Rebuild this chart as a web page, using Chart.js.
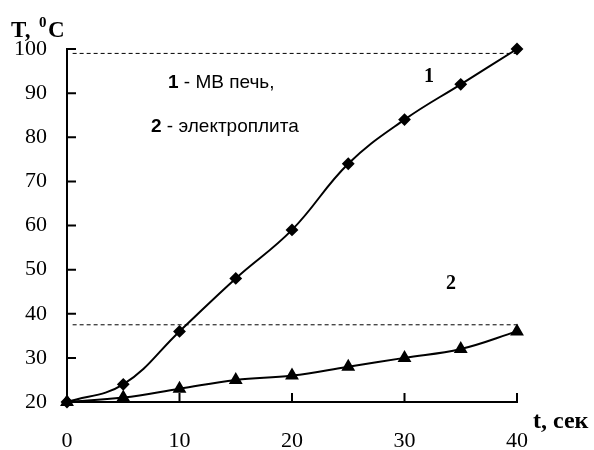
<!DOCTYPE html>
<html>
<head>
<meta charset="utf-8">
<script src="https://cdn.jsdelivr.net/npm/chart.js@4.4.0/dist/chart.umd.min.js"></script>
<style>
    html, body { margin: 0; padding: 0; background: #fff; }
    #wrap { width: 594px; height: 450px; }
</style>
</head>
<body>
<div id="wrap"><canvas id="chart" width="594" height="450"></canvas></div>
<script>
'use strict';

const timeSec = [0, 5, 10, 15, 20, 25, 30, 35, 40];
const microwaveTemp = [20, 24, 36, 48, 59, 74, 84, 92, 100];
const stoveTemp = [20, 21, 23, 25, 26, 28, 30, 32, 36];
const xTicks = [0, 10, 20, 30, 40];
const yTicks = [20, 30, 40, 50, 60, 70, 80, 90, 100];
const guideTop = 99;
const guideLow = 37.5;
const guideRight = 40.25;

const serif = '"Liberation Serif", "Times New Roman", serif';
const sans = '"Liberation Sans", Arial, sans-serif';

const toPoints = (ys) => timeSec.map((x, i) => ({ x, y: ys[i] }));

// inward tick marks + all the loose text around the plot
const decorations = {
    id: 'decorations',
    afterDraw(chart) {
        const { ctx, scales: { x, y } } = chart;
        ctx.save();
        ctx.strokeStyle = '#000';
        ctx.lineWidth = 2;
        ctx.beginPath();
        yTicks.forEach((v) => {
            const py = y.getPixelForValue(v);
            ctx.moveTo(x.left, py);
            ctx.lineTo(x.left + 9, py);
        });
        xTicks.forEach((v) => {
            const px = x.getPixelForValue(v);
            ctx.moveTo(px, y.bottom);
            ctx.lineTo(px, y.bottom - 9);
        });
        ctx.stroke();

        ctx.fillStyle = '#000';
        ctx.textBaseline = 'alphabetic';
        ctx.textAlign = 'left';

        // y axis title: T, °C with superscript zero
        ctx.font = 'bold 23px ' + serif;
        ctx.fillText('T,', 11, 37);
        ctx.font = 'bold 15px ' + serif;
        ctx.fillText('0', 39, 27);
        ctx.font = 'bold 23px ' + serif;
        ctx.fillText('C', 48, 37);

        // x axis title
        ctx.font = 'bold 24px ' + serif;
        ctx.fillText('t, сек', 533, 428);

        // curve numbers
        ctx.font = 'bold 20px ' + serif;
        ctx.textAlign = 'center';
        ctx.fillText('1', 429, 82);
        ctx.fillText('2', 451, 289);

        // note
        ctx.textAlign = 'left';
        ctx.font = 'bold 19px ' + sans;
        ctx.fillText('1', 168, 88);
        let w = ctx.measureText('1').width;
        ctx.font = '19px ' + sans;
        ctx.fillText(' - МВ печь,', 168 + w, 88);
        ctx.font = 'bold 19px ' + sans;
        ctx.fillText('2', 151, 132);
        w = ctx.measureText('2').width;
        ctx.font = '19px ' + sans;
        ctx.fillText(' - электроплита', 151 + w, 132);
        ctx.restore();
    }
};

new Chart(document.getElementById('chart').getContext('2d'), {
    type: 'line',
    data: {
        datasets: [
            {
                label: 'МВ печь',
                data: toPoints(microwaveTemp),
                borderColor: '#000',
                backgroundColor: '#000',
                borderWidth: 2,
                tension: 0.4,
                pointStyle: 'rectRot',
                pointRadius: 5,
                clip: false
            },
            {
                label: 'электроплита',
                data: toPoints(stoveTemp),
                borderColor: '#000',
                backgroundColor: '#000',
                borderWidth: 2,
                tension: 0.4,
                pointStyle: 'triangle',
                pointRadius: 6,
                clip: false
            },
            {
                label: 'guide top',
                data: [{ x: 0.5, y: guideTop }, { x: guideRight, y: guideTop }, { x: guideRight, y: yTicks[0] }],
                borderColor: '#000',
                borderWidth: 1,
                borderDash: [4, 3],
                pointRadius: 0,
                tension: 0,
                clip: false
            },
            {
                label: 'guide low',
                data: [{ x: 0.5, y: guideLow }, { x: guideRight, y: guideLow }],
                borderColor: '#000',
                borderWidth: 1,
                borderDash: [4, 3],
                pointRadius: 0,
                tension: 0,
                clip: false
            }
        ]
    },
    options: {
        responsive: false,
        animation: false,
        layout: { padding: { top: 49, right: 77, bottom: 0, left: 0 } },
        plugins: {
            legend: { display: false },
            tooltip: { enabled: false }
        },
        scales: {
            x: {
                type: 'linear',
                min: 0,
                max: 40,
                afterBuildTicks: (scale) => { scale.ticks = xTicks.map((value) => ({ value })); },
                afterFit: (scale) => { scale.height = 48; },
                grid: { drawOnChartArea: false, drawTicks: false },
                border: { display: true, color: '#000', width: 2 },
                ticks: { color: '#000', padding: 26, maxRotation: 0, font: { family: serif, size: 22 } }
            },
            y: {
                type: 'linear',
                min: 20,
                max: 100,
                afterBuildTicks: (scale) => { scale.ticks = yTicks.map((value) => ({ value })); },
                afterFit: (scale) => { scale.width = 67; },
                grid: { drawOnChartArea: false, drawTicks: false },
                border: { display: true, color: '#000', width: 2 },
                ticks: { color: '#000', padding: 20, font: { family: serif, size: 22 } }
            }
        }
    },
    plugins: [decorations]
});
</script>
</body>
</html>
